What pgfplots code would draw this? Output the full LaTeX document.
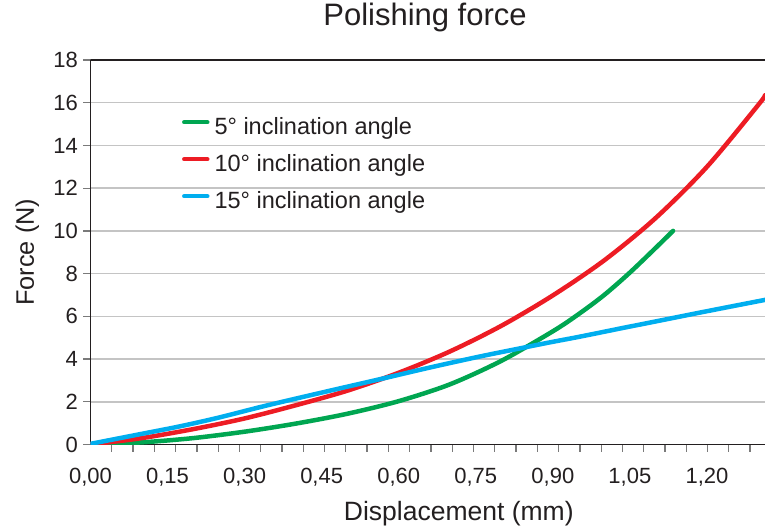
\documentclass[border=0pt]{standalone}
\usepackage{fontspec}
\setmainfont{Liberation Sans}
\usepackage{pgfplots}
\pgfplotsset{compat=1.18}
\definecolor{cgreen}{HTML}{00A651}
\definecolor{cred}{HTML}{ED1C24}
\definecolor{cblue}{HTML}{00AEEF}
\definecolor{ctext}{HTML}{231F20}
\definecolor{cgrid}{HTML}{C4C4C4}
\definecolor{ctick}{HTML}{7A7A7A}

\begin{document}
\begin{tikzpicture}
\begin{axis}[
  name=ax,
  scale only axis,
  width=674.5pt, height=384.5pt,
  xmin=0, xmax=1.313, ymin=0, ymax=18,
  axis x line*=bottom, axis y line*=left,
  axis line style={ctext, line width=1.6pt},
  /pgf/number format/assume math mode=true,
  xtick={0,0.15,0.3,0.45,0.6,0.75,0.9,1.05,1.2},
  minor xtick={0.04142,0.08284,...,1.30},
  ytick={0,2,...,18},
  scaled x ticks=false,
  tick align=outside,
  major tick length=7pt, minor tick length=7pt,
  tick style={ctick, line width=1.3pt},
  major x tick style={draw=none},
  ymajorgrids,
  major grid style={cgrid, line width=1.5pt},
  xticklabel style={/pgf/number format/.cd, fixed, fixed zerofill, precision=2, use comma, /tikz/.cd,
    font=\fontsize{22}{26}\selectfont, text=ctext, anchor=base, yshift=-31.5pt, inner sep=0pt},
  yticklabel style={font=\fontsize{22}{26}\selectfont, text=ctext, anchor=east, inner sep=0pt, xshift=-5.5pt},
  xlabel={Displacement (mm)},
  xlabel style={font=\fontsize{26.5}{30}\selectfont, text=ctext, at={(axis description cs:0.546,0)}, anchor=base, yshift=-75.5pt},
  ylabel={Force (N)},
  ylabel style={font=\fontsize{25.3}{30}\selectfont, text=ctext, at={([xshift=-56.5pt]axis description cs:0,0.5)}, anchor=base},
  title={Polishing force},
  title style={font=\fontsize{31}{36}\selectfont, text=ctext, at={(axis description cs:0.496,1)}, anchor=base, yshift=28pt},
  legend style={at={(axis description cs:0.131,0.857)}, anchor=north west, draw=none, fill=none,
    font=\fontsize{23.5}{28}\selectfont, text=ctext, row sep=15pt,
    nodes={inner sep=0pt, text height=17pt, text depth=5pt}},
  legend cell align=left,
  legend image code/.code={\draw[line width=4.5pt, line cap=round] (0pt,6pt) -- (23pt,6pt);},
  /tikz/every odd column/.append style={column sep=5pt},
  every axis plot/.append style={line width=4.5pt, line join=round, line cap=round},
]
\draw[ctext, line width=1.6pt] (rel axis cs:0,1) -- (rel axis cs:1,1);

\addplot[cgreen, smooth] coordinates {
  (0,0) (0.1,0.1) (0.2,0.3) (0.3,0.6) (0.4,0.98) (0.5,1.44) (0.6,2.03)
  (0.7,2.82) (0.8,3.92) (0.9,5.3) (0.95,6.1) (1.0,7.0) (1.05,8.05) (1.1,9.2) (1.134,10.0)
};
\addlegendentry{5° inclination angle}

\addplot[cred, smooth] coordinates {
  (0,0) (0.1,0.3) (0.2,0.72) (0.3,1.22) (0.4,1.84) (0.5,2.52) (0.6,3.36)
  (0.7,4.36) (0.8,5.56) (0.9,6.98) (1.0,8.62) (1.1,10.6) (1.2,13.0) (1.3,15.9) (1.313,16.35)
};
\addlegendentry{10° inclination angle}

\addplot[cblue, smooth] coordinates {
  (0,0.03) (0.1,0.5) (0.174,0.85) (0.248,1.25) (0.33,1.75) (0.4,2.15) (0.486,2.63)
  (0.564,3.06) (0.66,3.6) (0.758,4.12) (0.836,4.5) (0.894,4.78) (0.953,5.05)
  (1.031,5.43) (1.1,5.76) (1.2,6.24) (1.313,6.77)
};
\addlegendentry{15° inclination angle}
\end{axis}
\pgfresetboundingbox
\path[use as bounding box] ([xshift=-90.5pt,yshift=-85.5pt]ax.south west) rectangle ([yshift=60pt]ax.north east);
\end{tikzpicture}
\end{document}
